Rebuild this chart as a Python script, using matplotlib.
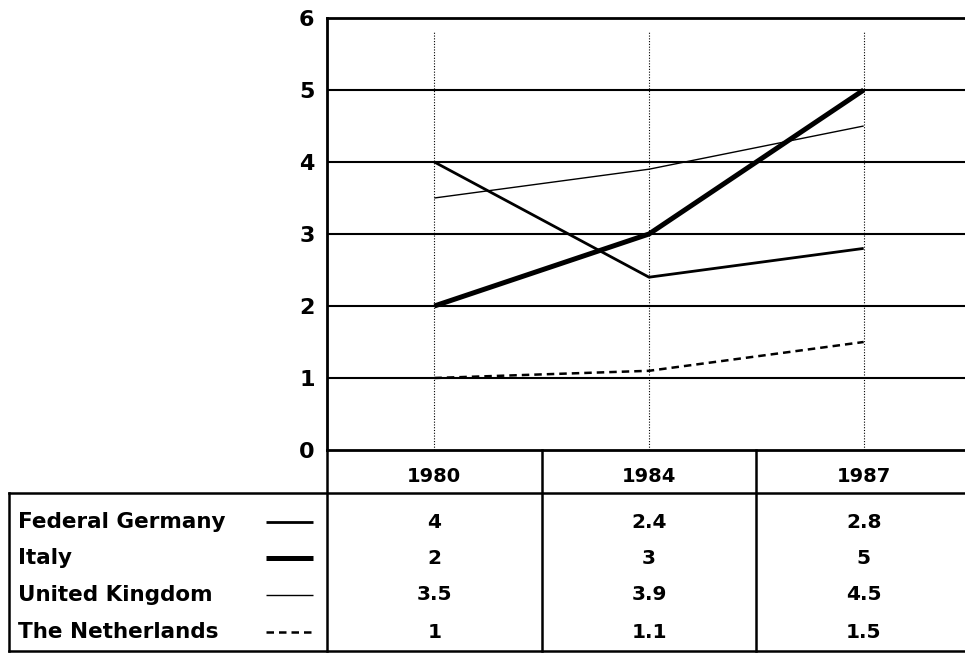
import matplotlib.pyplot as plt
import matplotlib.transforms as mtransforms

years = ["1980", "1984", "1987"]
countries = ["Federal Germany", "Italy", "United Kingdom", "The Netherlands"]
germany = [4, 2.4, 2.8]
italy = [2, 3, 5]
uk = [3.5, 3.9, 4.5]
netherlands = [1, 1.1, 1.5]
values = [germany, italy, uk, netherlands]
cells = [["4", "2.4", "2.8"], ["2", "3", "5"], ["3.5", "3.9", "4.5"], ["1", "1.1", "1.5"]]

styles = [
    dict(lw=2.0, ls="-"),
    dict(lw=3.6, ls="-"),
    dict(lw=1.0, ls="-"),
    dict(lw=1.8, ls=(0, (3, 2))),
]

plt.rcParams["font.family"] = ["DejaVu Sans"]
plt.rcParams["font.weight"] = "bold"

W, H = 965, 656
fig = plt.figure(figsize=(W / 100, H / 100), dpi=100)


def fx(px):
    return px / W


def fy(py):
    return 1 - py / H


left, right, top, bot = 327, 971, 18, 450
ax = fig.add_axes([fx(left), fy(bot), fx(right - left), fy(top) - fy(bot)])
ax.set_xlim(-0.5, 2.5)
ax.set_ylim(0, 6)
x = list(range(len(years)))

for y in range(1, 6):
    ax.axhline(y, color="black", lw=1.5, zorder=1)
ax.vlines(x, 0, 5.82, colors="black", lw=0.8, linestyles=(0, (1, 1.5)), zorder=1)

for vals, st in zip(values, styles):
    ax.plot(x, vals, color="black", solid_capstyle="butt", zorder=3, **st)

ax.set_xticks([])
ax.set_yticks(range(7))
ax.set_yticklabels([str(i) for i in range(7)], fontsize=16, fontweight="bold")
ax.tick_params(axis="y", length=0, pad=9)
for s in ["top", "left", "bottom"]:
    ax.spines[s].set_linewidth(2)
ax.spines["right"].set_visible(False)

# table below the chart
blend = mtransforms.blended_transform_factory(ax.transData, fig.transFigure)
tbl_top, head_bot, tbl_bot = 450, 493, 651
tl = 9
lkw = dict(color="black", lw=1.8)
fig.add_artist(plt.Line2D([fx(left), fx(left)], [fy(tbl_top), fy(tbl_bot)], **lkw))
for b in [0.5, 1.5]:
    fig.add_artist(plt.Line2D([b, b], [fy(tbl_top), fy(tbl_bot)], transform=blend, **lkw))
fig.add_artist(plt.Line2D([fx(tl), 1], [fy(head_bot), fy(head_bot)], **lkw))
fig.add_artist(plt.Line2D([fx(tl), 1], [fy(tbl_bot), fy(tbl_bot)], **lkw))
fig.add_artist(plt.Line2D([fx(tl), fx(tl)], [fy(head_bot), fy(tbl_bot)], **lkw))

for i, yr in enumerate(years):
    fig.text(i, fy(476), yr, transform=blend, ha="center", va="center",
             fontsize=14, fontweight="bold")

row_y = [522, 558, 595, 632]
for r, (name, st) in enumerate(zip(countries, styles)):
    yy = fy(row_y[r])
    fig.text(fx(18), yy, name, ha="left", va="center", fontsize=15.5, fontweight="bold")
    fig.add_artist(plt.Line2D([fx(266), fx(313)], [yy, yy], color="black",
                              solid_capstyle="butt", **st))
    for i, c in enumerate(cells[r]):
        fig.text(i, yy, c, transform=blend, ha="center", va="center",
                 fontsize=14.5, fontweight="bold")

fig.savefig("out.png", dpi=100)
